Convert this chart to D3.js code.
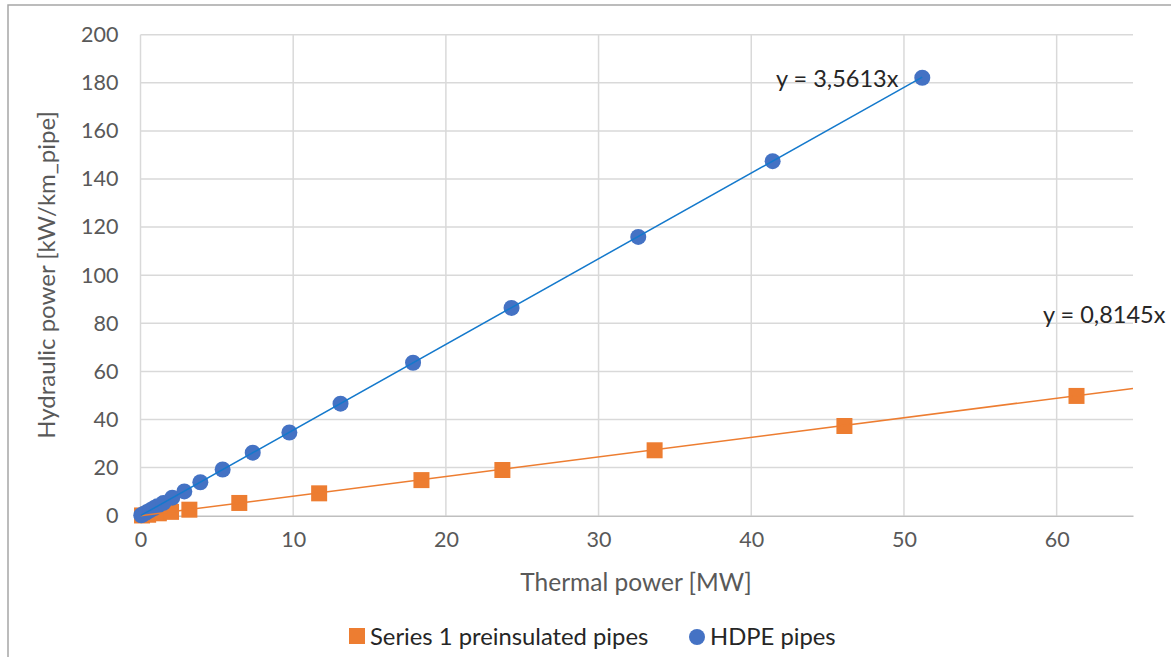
<!DOCTYPE html>
<html>
<head>
<meta charset="utf-8">
<script src="https://cdn.jsdelivr.net/npm/d3@7"></script>
<style>
  body { margin: 0; background: #fff; }
  svg { display: block; font-family: Lato, "Open Sans", sans-serif; }
</style>
</head>
<body>
<div id="chart"></div>
<script>
// Series 1 preinsulated pipes (orange squares): thermal power [MW], hydraulic power [kW/km_pipe]
const preX = [0.1, 0.5, 1.2, 2.0, 3.2, 6.47, 11.7, 18.4, 23.7, 33.67, 46.1, 61.3];
const preY = [0.1, 0.4, 1.0, 1.6, 2.5, 5.3, 9.3, 14.8, 19.0, 27.2, 37.3, 49.8];
// HDPE pipes (blue circles)
const hdpeX = [0.05, 0.2, 0.4, 0.65, 0.9, 1.1, 1.5, 2.08, 2.87, 3.92, 5.38, 7.35, 9.75, 13.1, 17.85, 24.3, 32.6, 41.4, 51.2];
const hdpeY = [0.2, 0.7, 1.4, 2.3, 3.2, 3.9, 5.3, 7.5, 10.1, 13.9, 19.2, 26.2, 34.6, 46.6, 63.6, 86.4, 115.9, 147.4, 182.1];
// linear trendlines through origin
const trendSlopes = { pre: 0.8145, hdpe: 3.5613 };
const trendLabels = { pre: "y = 0,8145x", hdpe: "y = 3,5613x" };
const xTicks = [0, 10, 20, 30, 40, 50, 60];
const yTicks = [0, 20, 40, 60, 80, 100, 120, 140, 160, 180, 200];
const legendNames = ["Series 1 preinsulated pipes", "HDPE pipes"];

const width = 1171, height = 657;
const plot = { left: 140.5, right: 1133, top: 34.7, bottom: 515.7 };
const orange = "#ED7D31", blue = "#4472C4", blueLine = "#1479CC";

const svg = d3.select("#chart").append("svg")
    .attr("width", width).attr("height", height);

// chart border (right/bottom are cut off in the picture)
svg.append("path")
    .attr("d", `M8,${height} V5 H${width}`)
    .attr("fill", "none").attr("stroke", "#a6a6a6").attr("stroke-width", 1.5);

const x = d3.scaleLinear().domain([0, 65]).range([plot.left, plot.right]);
const y = d3.scaleLinear().domain([0, 200]).range([plot.bottom, plot.top]);

// gridlines
svg.append("g").selectAll("line.hg")
    .data(yTicks.slice(1))
    .enter().append("line")
    .attr("x1", plot.left).attr("x2", plot.right)
    .attr("y1", d => y(d)).attr("y2", d => y(d))
    .attr("stroke", "#d9d9d9").attr("stroke-width", 1.5);
svg.append("g").selectAll("line.vg")
    .data(xTicks)
    .enter().append("line")
    .attr("x1", d => x(d)).attr("x2", d => x(d))
    .attr("y1", plot.top).attr("y2", plot.bottom)
    .attr("stroke", "#d9d9d9").attr("stroke-width", 1.5);

// axes
const xAxis = d3.axisBottom(x).tickValues(xTicks).tickSize(0).tickPadding(16);
const yAxis = d3.axisLeft(y).tickValues(yTicks).tickSize(0).tickPadding(22);
const gx = svg.append("g").attr("transform", `translate(0,${plot.bottom})`).call(xAxis);
gx.select(".domain").attr("stroke", "#bfbfbf").attr("stroke-width", 1.5);
const gy = svg.append("g").attr("transform", `translate(${plot.left},0)`).call(yAxis);
gy.select(".domain").remove();
svg.selectAll(".tick text")
    .attr("fill", "#595959").style("font-size", "21.5px").style("font-family", "Lato, sans-serif");

// axis titles
svg.append("text")
    .attr("x", 636).attr("y", 591)
    .attr("text-anchor", "middle").attr("fill", "#595959")
    .style("font-size", "24.5px").text("Thermal power [MW]");
svg.append("text")
    .attr("transform", "translate(55,275) rotate(-90)")
    .attr("text-anchor", "middle").attr("fill", "#595959")
    .style("font-size", "24px").text("Hydraulic power [kW/km_pipe]");

// clip to plot area
svg.append("clipPath").attr("id", "plotClip")
    .append("rect")
    .attr("x", plot.left).attr("y", plot.top - 10)
    .attr("width", plot.right - plot.left).attr("height", plot.bottom - plot.top + 20);

const preData = preX.map((d, i) => ({ x: d, y: preY[i] }));
const hdpeData = hdpeX.map((d, i) => ({ x: d, y: hdpeY[i] }));

// orange squares
const sq = 16;
svg.append("g").selectAll("rect")
    .data(preData)
    .enter().append("rect")
    .attr("x", d => x(d.x) - sq / 2).attr("y", d => y(d.y) - sq / 2)
    .attr("width", sq).attr("height", sq)
    .attr("fill", orange);

// blue circles
svg.append("g").selectAll("circle")
    .data(hdpeData)
    .enter().append("circle")
    .attr("cx", d => x(d.x)).attr("cy", d => y(d.y))
    .attr("r", 8)
    .attr("fill", blue);

// trendlines
const trend = svg.append("g").attr("clip-path", "url(#plotClip)");
trend.append("line")
    .attr("x1", x(0)).attr("y1", y(0))
    .attr("x2", x(65)).attr("y2", y(65 * trendSlopes.pre))
    .attr("stroke", orange).attr("stroke-width", 1.5);
const hdpeMax = d3.max(hdpeX);
trend.append("line")
    .attr("x1", x(0)).attr("y1", y(0))
    .attr("x2", x(hdpeMax)).attr("y2", y(hdpeMax * trendSlopes.hdpe))
    .attr("stroke", blueLine).attr("stroke-width", 1.5);

// trendline equations
svg.append("text")
    .attr("x", 776).attr("y", 87)
    .attr("fill", "#262626").style("font-size", "23.5px")
    .text(trendLabels.hdpe);
svg.append("text")
    .attr("x", 1043).attr("y", 323)
    .attr("fill", "#262626").style("font-size", "23.5px")
    .text(trendLabels.pre);

// legend
const legend = svg.append("g");
legend.append("rect")
    .attr("x", 349).attr("y", 628).attr("width", 16).attr("height", 16)
    .attr("fill", orange);
legend.append("text")
    .attr("x", 370).attr("y", 645)
    .attr("fill", "#262626").style("font-size", "23.8px")
    .text(legendNames[0]);
legend.append("circle")
    .attr("cx", 697).attr("cy", 637).attr("r", 8)
    .attr("fill", blue);
legend.append("text")
    .attr("x", 710).attr("y", 645)
    .attr("fill", "#262626").style("font-size", "23.8px")
    .text(legendNames[1]);
</script>
</body>
</html>
